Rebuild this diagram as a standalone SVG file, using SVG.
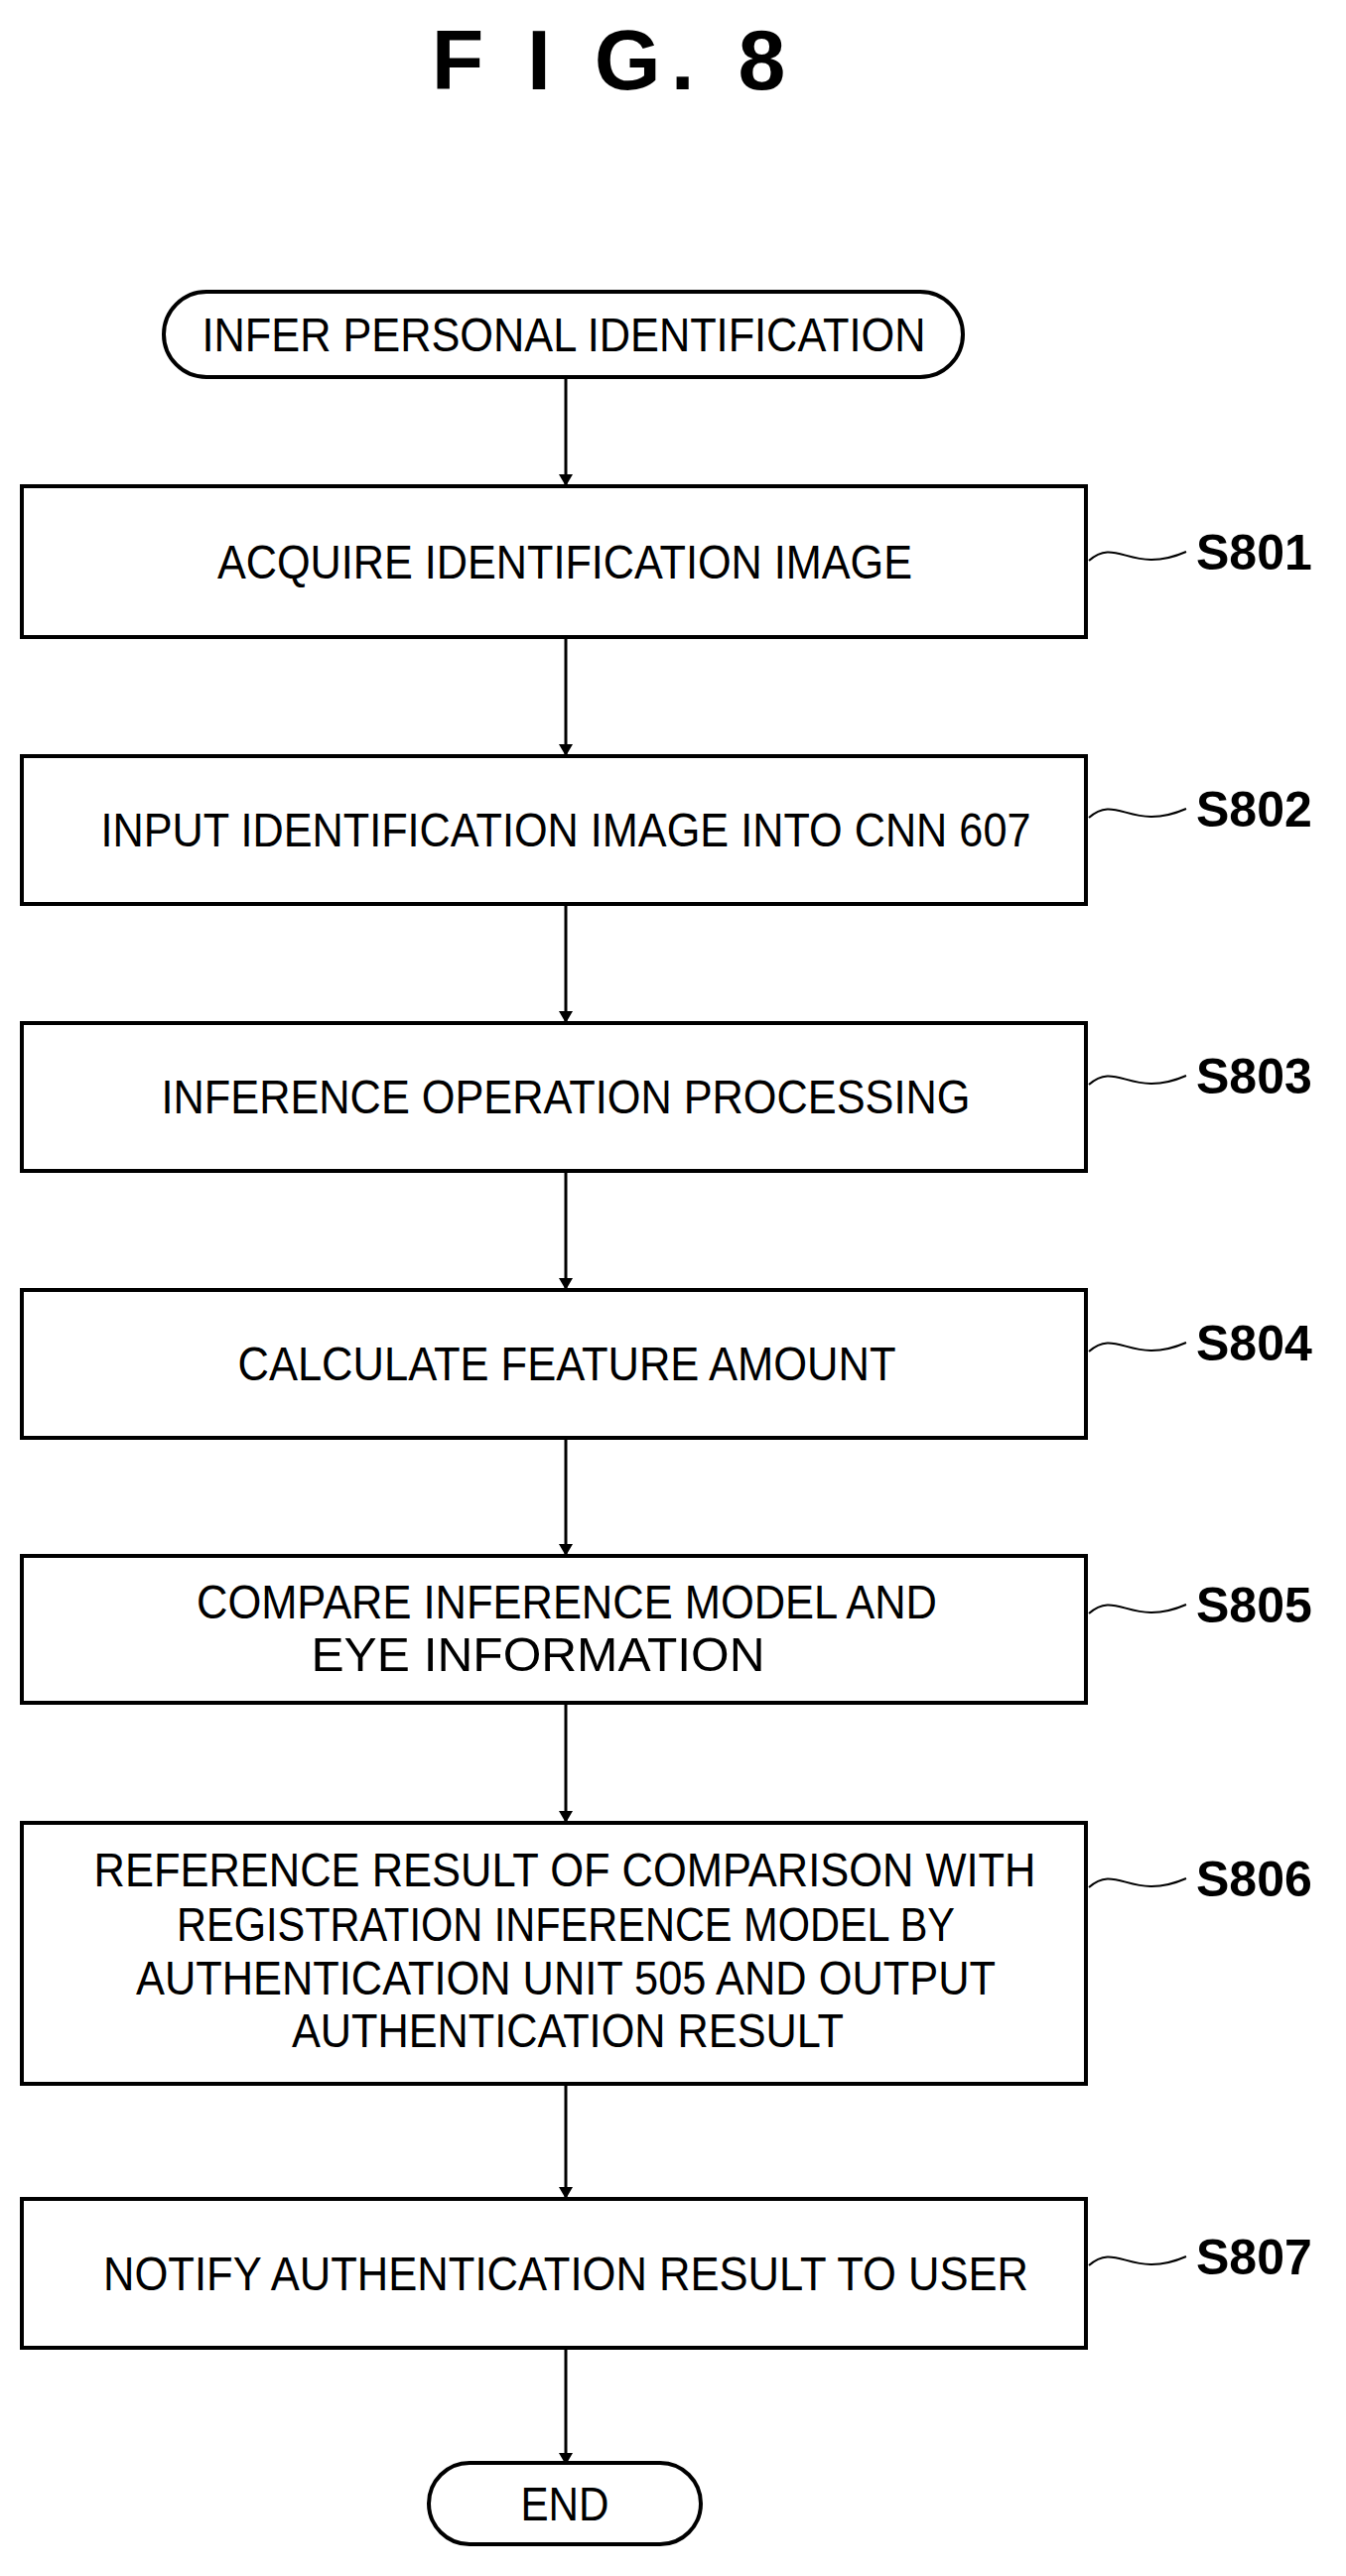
<svg xmlns="http://www.w3.org/2000/svg" width="1356" height="2596" viewBox="0 0 1356 2596">
<style>
.b{fill:#fff;stroke:#000;stroke-width:4}
.t{font-family:"Liberation Sans",Arial,sans-serif;font-size:48px;text-anchor:middle;dominant-baseline:central}
.l{font-family:"Liberation Sans",Arial,sans-serif;font-size:50px;font-weight:bold}
.c{stroke:#000;stroke-width:3;fill:none}
.w{stroke:#000;stroke-width:2;fill:none}
</style>
<defs><marker id="a" markerWidth="12" markerHeight="20" refX="12" refY="10" orient="auto" markerUnits="userSpaceOnUse"><path d="M0,3 L12,10 L0,17 Z" fill="#000"/></marker></defs>
<rect width="1356" height="2596" fill="#fff"/>
<text x="618" y="90" font-family="Liberation Sans,Arial,sans-serif" font-size="86" font-weight="bold" text-anchor="middle" letter-spacing="10">F I G. 8</text>
<g id="connectors">
<line class="c" x1="570" y1="380" x2="570" y2="490" marker-end="url(#a)"/>
<line class="c" x1="570" y1="642" x2="570" y2="762" marker-end="url(#a)"/>
<line class="c" x1="570" y1="911" x2="570" y2="1031" marker-end="url(#a)"/>
<line class="c" x1="570" y1="1180" x2="570" y2="1300" marker-end="url(#a)"/>
<line class="c" x1="570" y1="1449" x2="570" y2="1568" marker-end="url(#a)"/>
<line class="c" x1="570" y1="1716" x2="570" y2="1837" marker-end="url(#a)"/>
<line class="c" x1="570" y1="2100" x2="570" y2="2216" marker-end="url(#a)"/>
<line class="c" x1="570" y1="2364" x2="570" y2="2484" marker-end="url(#a)"/>
</g>
<g id="start"><rect class="b" x="165" y="294" width="805" height="86" rx="43"/><text class="t" x="568" y="337" textLength="729" lengthAdjust="spacingAndGlyphs">INFER PERSONAL IDENTIFICATION</text></g>
<g id="s801"><rect class="b" x="22" y="490" width="1072" height="152"/><text class="t" x="569" y="566" textLength="700" lengthAdjust="spacingAndGlyphs">ACQUIRE IDENTIFICATION IMAGE</text><path class="w" d="M1097,565 C1125,540 1140,580 1195,556"/><text class="l" x="1205" y="574">S801</text></g>
<g id="s802"><rect class="b" x="22" y="762" width="1072" height="149"/><text class="t" x="570" y="836" textLength="937" lengthAdjust="spacingAndGlyphs">INPUT IDENTIFICATION IMAGE INTO CNN 607</text><path class="w" d="M1097,824 C1125,799 1140,839 1195,815"/><text class="l" x="1205" y="833">S802</text></g>
<g id="s803"><rect class="b" x="22" y="1031" width="1072" height="149"/><text class="t" x="570" y="1105" textLength="815" lengthAdjust="spacingAndGlyphs">INFERENCE OPERATION PROCESSING</text><path class="w" d="M1097,1093 C1125,1068 1140,1108 1195,1084"/><text class="l" x="1205" y="1102">S803</text></g>
<g id="s804"><rect class="b" x="22" y="1300" width="1072" height="149"/><text class="t" x="571" y="1374" textLength="663" lengthAdjust="spacingAndGlyphs">CALCULATE FEATURE AMOUNT</text><path class="w" d="M1097,1362 C1125,1337 1140,1377 1195,1353"/><text class="l" x="1205" y="1371">S804</text></g>
<g id="s805"><rect class="b" x="22" y="1568" width="1072" height="148"/><text class="t" x="571" y="1614" textLength="746" lengthAdjust="spacingAndGlyphs">COMPARE INFERENCE MODEL AND</text><text class="t" x="542" y="1667" textLength="457" lengthAdjust="spacingAndGlyphs">EYE INFORMATION</text><path class="w" d="M1097,1626 C1125,1601 1140,1641 1195,1617"/><text class="l" x="1205" y="1635">S805</text></g>
<g id="s806"><rect class="b" x="22" y="1837" width="1072" height="263"/><text class="t" x="569" y="1884" textLength="949" lengthAdjust="spacingAndGlyphs">REFERENCE RESULT OF COMPARISON WITH</text><text class="t" x="570" y="1939" textLength="784" lengthAdjust="spacingAndGlyphs">REGISTRATION INFERENCE MODEL BY</text><text class="t" x="570" y="1993" textLength="866" lengthAdjust="spacingAndGlyphs">AUTHENTICATION UNIT 505 AND OUTPUT</text><text class="t" x="572" y="2046" textLength="556" lengthAdjust="spacingAndGlyphs">AUTHENTICATION RESULT</text><path class="w" d="M1097,1902 C1125,1877 1140,1917 1195,1893"/><text class="l" x="1205" y="1911">S806</text></g>
<g id="s807"><rect class="b" x="22" y="2216" width="1072" height="150"/><text class="t" x="570" y="2291" textLength="932" lengthAdjust="spacingAndGlyphs">NOTIFY AUTHENTICATION RESULT TO USER</text><path class="w" d="M1097,2283 C1125,2258 1140,2298 1195,2274"/><text class="l" x="1205" y="2292">S807</text></g>
<g id="end"><rect class="b" x="432" y="2482" width="274" height="82" rx="41"/><text class="t" x="569" y="2523" textLength="89" lengthAdjust="spacingAndGlyphs">END</text></g>
</svg>
